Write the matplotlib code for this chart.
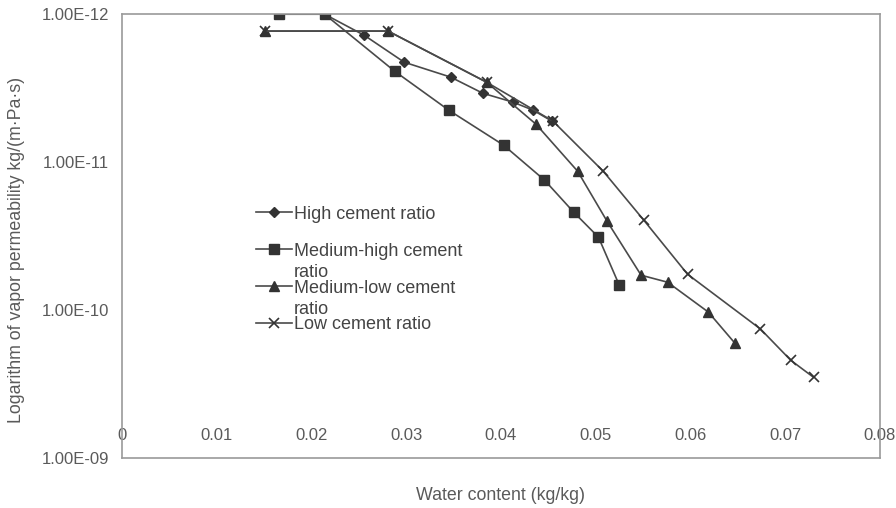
'''Vapor permeability vs water content'''
import matplotlib.pyplot as plt
from matplotlib.ticker import FixedLocator

# water content (kg/kg) and vapor permeability kg/(m.Pa.s)
high_x = [0.0214, 0.0256, 0.0298, 0.0347, 0.0381, 0.0413, 0.0434, 0.0454]
high_y = [1.00e-12, 1.39e-12, 2.11e-12, 2.66e-12, 3.42e-12, 3.93e-12, 4.45e-12, 5.28e-12]

medhigh_x = [0.0166, 0.0214, 0.0288, 0.0345, 0.0403, 0.0446, 0.0477, 0.0503, 0.0525]
medhigh_y = [1.00e-12, 1.00e-12, 2.43e-12, 4.45e-12, 7.68e-12, 1.32e-11, 2.18e-11, 3.21e-11, 6.78e-11]

medlow_x = [0.0151, 0.0281, 0.0385, 0.0437, 0.0481, 0.0512, 0.0548, 0.0576, 0.0619, 0.0647]
medlow_y = [1.30e-12, 1.30e-12, 2.88e-12, 5.53e-12, 1.15e-11, 2.50e-11, 5.80e-11, 6.47e-11, 1.03e-10, 1.67e-10]

low_x = [0.0151, 0.0281, 0.0385, 0.0455, 0.0508, 0.0551, 0.0597, 0.0674, 0.0706, 0.0730]
low_y = [1.30e-12, 1.30e-12, 2.88e-12, 5.28e-12, 1.15e-11, 2.47e-11, 5.71e-11, 1.34e-10, 2.18e-10, 2.84e-10]

x_ticks = [0, 0.01, 0.02, 0.03, 0.04, 0.05, 0.06, 0.07, 0.08]
x_labels = ['0', '0.01', '0.02', '0.03', '0.04', '0.05', '0.06', '0.07', '0.08']
y_ticks = [1e-12, 1e-11, 1e-10, 1e-9]
y_labels = ['1.00E-12', '1.00E-11', '1.00E-10', '1.00E-09']


def main():
    ''' Main function for module'''
    plt.rcParams['font.family'] = ['Liberation Sans', 'DejaVu Sans']
    txt = '#5a5a5a'
    ln = '#4a4a4a'
    mk = '#333333'

    fig = plt.figure(figsize=(8.96, 5.08), dpi=100)
    ax = fig.add_axes([0.136, 0.098, 0.846, 0.874])

    # trailing newline keeps an empty slot under the first entry, like the Excel legend
    ax.plot(high_x, high_y, '-', color=ln, lw=1.2, marker='D', ms=5,
            mfc=mk, mec=mk, label='High cement ratio\n')
    ax.plot(medhigh_x, medhigh_y, '-', color=ln, lw=1.2, marker='s', ms=7,
            mfc=mk, mec=mk, label='Medium-high cement\nratio')
    ax.plot(medlow_x, medlow_y, '-', color=ln, lw=1.2, marker='^', ms=7,
            mfc=mk, mec=mk, label='Medium-low cement\nratio')
    ax.plot(low_x, low_y, '-', color=ln, lw=1.2, marker='x', ms=7.5, mew=1.2,
            mfc=mk, mec=mk, label='Low cement ratio')

    ax.set_yscale('log')
    ax.set_ylim(1e-9, 1e-12)
    ax.set_xlim(0, 0.08)
    ax.yaxis.set_major_locator(FixedLocator(y_ticks))
    ax.yaxis.set_minor_locator(FixedLocator([]))
    ax.set_yticklabels(y_labels)
    ax.set_xticks(x_ticks)
    ax.set_xticklabels(x_labels)

    ax.tick_params(axis='x', length=0, pad=-22, labelsize=12, labelcolor=txt)
    ax.tick_params(axis='y', length=0, pad=9, labelsize=12, labelcolor=txt)

    for s in ax.spines.values():
        s.set_color('#9a9a9a')
        s.set_linewidth(1.2)

    ax.set_xlabel('Water content (kg/kg)', fontsize=12.8, color=txt, labelpad=21)
    ax.set_ylabel('Logarithm of vapor permeability kg/(m\u00b7Pa\u00b7s)',
                  fontsize=12.8, color=txt)
    ax.yaxis.set_label_coords(-0.128, 0.468)

    leg = ax.legend(loc='upper left', bbox_to_anchor=(0.165, 0.588), frameon=False,
                    fontsize=13, labelcolor='#444444', handlelength=2.0,
                    handletextpad=0.1, labelspacing=-0.1, borderpad=0)
    for t in leg.get_texts():
        t.set_linespacing(1.35)
    # put the marker beside the first line of the two-line labels
    for col in leg._legend_handle_box.get_children():
        for row in col.get_children():
            if '\n' in row.get_children()[1]._text.get_text():
                row.align = 'top'

    fig.savefig('out.png', dpi=100)


if __name__ == "__main__":
    main()
